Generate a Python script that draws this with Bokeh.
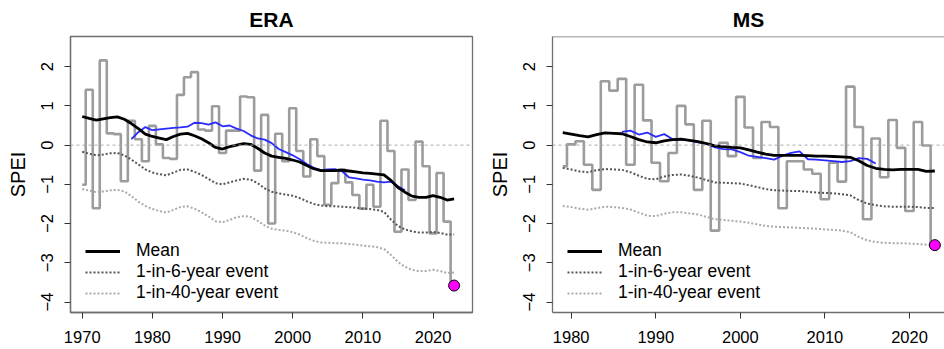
from bokeh.plotting import figure
from bokeh.models import Range1d, FixedTicker, Legend, LegendItem, Span
from bokeh.layouts import row
from bokeh.embed import file_html
from bokeh.resources import INLINE

# ---------------- data ----------------
era_years = list(range(1970, 2024))
era_spei = [-1.01, 1.41, -1.61, 2.16, 0.30, 0.28, -0.92, 0.62, 0.15, -0.41,
            0.49, 0.02, -0.33, -0.35, 1.28, 1.73, 1.86, 0.40, 0.37, 0.99,
            -0.20, 0.37, 0.37, 1.24, 1.22, -0.65, 0.77, -2.00, 0.29, -0.41,
            0.94, -0.15, -0.80, 0.15, -0.28, -1.52, -0.97, -0.62, -0.95, -1.27,
            -1.62, -1.01, -1.57, 0.62, -0.15, -2.21, -0.62, -1.40, 0.09, -0.54,
            -2.25, -0.71, -1.95, -3.58]
era_mean = [0.73, 0.68, 0.64, 0.67, 0.70, 0.72, 0.66, 0.55, 0.42, 0.28,
            0.22, 0.18, 0.14, 0.22, 0.28, 0.30, 0.24, 0.16, 0.06, -0.06,
            -0.10, -0.04, 0.00, 0.04, 0.02, -0.08, -0.20, -0.28, -0.31, -0.34,
            -0.38, -0.43, -0.52, -0.60, -0.65, -0.65, -0.65, -0.64, -0.66, -0.68,
            -0.71, -0.72, -0.74, -0.76, -0.90, -1.08, -1.20, -1.30, -1.33, -1.33,
            -1.29, -1.33, -1.40, -1.37]
era_rp6 = [-0.17, -0.22, -0.26, -0.24, -0.21, -0.20, -0.26, -0.37, -0.49, -0.62,
           -0.70, -0.74, -0.77, -0.70, -0.63, -0.62, -0.68, -0.76, -0.86, -0.97,
           -1.00, -0.95, -0.90, -0.86, -0.88, -0.97, -1.10, -1.19, -1.23, -1.26,
           -1.29, -1.35, -1.43, -1.50, -1.54, -1.56, -1.56, -1.57, -1.58, -1.60,
           -1.62, -1.63, -1.65, -1.70, -1.90, -2.06, -2.15, -2.20, -2.23, -2.23,
           -2.21, -2.24, -2.28, -2.28]
era_rp40 = [-1.12, -1.16, -1.20, -1.18, -1.15, -1.14, -1.18, -1.30, -1.44, -1.55,
            -1.63, -1.68, -1.72, -1.65, -1.58, -1.56, -1.62, -1.71, -1.82, -1.94,
            -1.97, -1.91, -1.84, -1.81, -1.83, -1.93, -2.05, -2.13, -2.16, -2.18,
            -2.22, -2.28, -2.37, -2.44, -2.48, -2.49, -2.50, -2.50, -2.52, -2.54,
            -2.56, -2.58, -2.60, -2.65, -2.80, -2.98, -3.10, -3.18, -3.21, -3.21,
            -3.18, -3.21, -3.26, -3.25]
era_blue_years = list(range(1977, 2017))
era_blue = [0.15, 0.33, 0.46, 0.38, 0.40, 0.42, 0.44, 0.45, 0.47, 0.57,
            0.56, 0.52, 0.58, 0.48, 0.50, 0.42, 0.36, 0.25, 0.17, 0.14,
            0.05, -0.10, -0.18, -0.26, -0.36, -0.48, -0.58, -0.64, -0.62, -0.61,
            -0.66, -0.82, -0.85, -0.88, -0.90, -0.93, -0.95, -0.93, -1.05, -1.15]

ms_years = list(range(1979, 2024))
ms_spei = [-0.54, 0.02, 0.10, -0.50, -1.14, 1.63, 1.39, 1.69, -0.50, 1.54,
           0.63, -0.45, -0.92, -0.20, 1.00, 0.53, -1.14, 0.62, -2.18, 0.06,
           -0.28, 1.23, 0.45, -0.33, 0.59, 0.46, -1.61, -0.41, -0.41, -0.62,
           -0.73, -1.38, -0.45, -0.93, 1.49, 0.46, -1.89, 0.17, -0.82, 0.64,
           -0.07, -1.68, 0.59, -0.01, -2.55]
ms_mean = [0.32, 0.28, 0.24, 0.21, 0.27, 0.31, 0.30, 0.29, 0.22, 0.14,
           0.08, 0.06, 0.11, 0.14, 0.15, 0.12, 0.09, 0.04, -0.02, -0.04,
           -0.06, -0.07, -0.12, -0.18, -0.23, -0.26, -0.26, -0.26, -0.26, -0.27,
           -0.28, -0.28, -0.29, -0.30, -0.31, -0.40, -0.52, -0.59, -0.62, -0.63,
           -0.62, -0.62, -0.62, -0.67, -0.66]
ms_rp6 = [-0.58, -0.62, -0.67, -0.69, -0.64, -0.61, -0.62, -0.63, -0.69, -0.78,
          -0.86, -0.87, -0.80, -0.76, -0.75, -0.78, -0.83, -0.89, -0.95, -0.96,
          -0.97, -0.98, -1.02, -1.07, -1.12, -1.15, -1.16, -1.17, -1.17, -1.19,
          -1.21, -1.22, -1.23, -1.25, -1.28, -1.40, -1.49, -1.53, -1.56, -1.57,
          -1.57, -1.57, -1.58, -1.60, -1.60]
ms_rp40 = [-1.55, -1.58, -1.62, -1.65, -1.61, -1.57, -1.58, -1.60, -1.64, -1.72,
           -1.80, -1.81, -1.75, -1.71, -1.71, -1.74, -1.77, -1.83, -1.89, -1.91,
           -1.93, -1.95, -1.98, -2.02, -2.06, -2.08, -2.09, -2.10, -2.11, -2.12,
           -2.13, -2.15, -2.16, -2.18, -2.22, -2.34, -2.43, -2.47, -2.49, -2.50,
           -2.50, -2.51, -2.52, -2.54, -2.54]
ms_blue_years = list(range(1986, 2017))
ms_blue = [0.34, 0.37, 0.27, 0.32, 0.21, 0.28, 0.15, 0.14, 0.12, 0.07,
           0.04, -0.06, -0.10, -0.11, -0.18, -0.27, -0.30, -0.33, -0.37, -0.27,
           -0.20, -0.16, -0.36, -0.37, -0.39, -0.41, -0.43, -0.41, -0.33, -0.35,
           -0.47]

era_xticks = [1970, 1980, 1990, 2000, 2010, 2020]
ms_xticks = [1980, 1990, 2000, 2010, 2020]
y_ticks = [-4, -3, -2, -1, 0, 1, 2]
legend_labels = ["Mean", "1-in-6-year event", "1-in-40-year event"]

FONT = "Liberation Sans"
FRAME = "#6e6e6e"
Y_BOTTOM, Y_TOP = -4.267, 2.769


def panel(title, years, spei, mean, rp6, rp40, byears, blue, xticks,
          xr, width, mbl, mbr, full_box):
    p = figure(width=width, height=349, output_backend="svg", toolbar_location=None,
               x_range=Range1d(*xr), y_range=Range1d(Y_BOTTOM, Y_TOP),
               min_border_left=mbl, min_border_right=mbr,
               min_border_top=11, min_border_bottom=37)
    p.grid.visible = False
    p.background_fill_color = "white"
    p.border_fill_color = "white"
    if full_box:
        p.outline_line_color = FRAME
        p.outline_line_width = 1.3
    else:
        p.outline_line_color = None
        p.add_layout(Span(location=Y_TOP, dimension="width", line_color=FRAME,
                          line_width=1.3))

    p.title.text = title
    p.title.align = "center"
    p.title.text_font = FONT
    p.title.text_font_size = "21px"
    p.title.text_font_style = "bold"
    p.title.text_color = "black"
    p.title.standoff = 11

    xa = p.below[0]
    ya = p.left[0]
    for ax in (xa, ya):
        ax.axis_line_color = FRAME
        ax.axis_line_width = 1.3
        ax.major_tick_line_color = "#333333"
        ax.major_tick_line_width = 1
        ax.major_tick_out = 6
        ax.major_tick_in = 0
        ax.minor_tick_line_color = None
        ax.major_label_text_font = FONT
        ax.major_label_text_font_size = "16.5px"
        ax.major_label_text_color = "black"

    xa.ticker = FixedTicker(ticks=xticks)
    xa.major_label_standoff = 12
    ya.ticker = FixedTicker(ticks=y_ticks)
    ya.major_label_orientation = "vertical"
    ya.major_label_standoff = 11
    ya.axis_label = "SPEI"
    ya.axis_label_text_font = FONT
    ya.axis_label_text_font_size = "20px"
    ya.axis_label_text_font_style = "normal"
    ya.axis_label_text_color = "black"
    ya.axis_label_standoff = 10

    p.step(years, spei, mode="center", line_color="#9c9c9c", line_width=2.6)
    p.add_layout(Span(location=0, dimension="width", line_color="#aaaaaa",
                      line_dash="3 3", line_width=1))
    r40 = p.line(years, rp40, line_color="#aaaaaa", line_width=2, line_dash="2 2")
    r6 = p.line(years, rp6, line_color="#555555", line_width=2, line_dash="2 2")
    p.line(byears, blue, line_color="#2a2aff", line_width=1.8)
    rm = p.line(years, mean, line_color="black", line_width=2.8)
    p.scatter([years[-1]], [spei[-1]], size=11, fill_color="#ff00ff",
              line_color="black", line_width=1)

    leg = Legend(items=[LegendItem(label=legend_labels[0], renderers=[rm]),
                        LegendItem(label=legend_labels[1], renderers=[r6]),
                        LegendItem(label=legend_labels[2], renderers=[r40])],
                 location=(15, 9), glyph_width=35, glyph_height=20,
                 label_height=20, label_standoff=16, spacing=0, padding=0,
                 margin=0, border_line_color=None, background_fill_alpha=0,
                 label_text_font=FONT, label_text_font_size="17.5px",
                 label_text_color="black")
    p.add_layout(leg, "center")
    return p


p1 = panel("ERA", era_years, era_spei, era_mean, era_rp6, era_rp40,
           era_blue_years, era_blue, era_xticks, (1968.33, 2025.62), 480, 70, 8, True)
p2 = panel("MS", ms_years, ms_spei, ms_mean, ms_rp6, ms_rp40,
           ms_blue_years, ms_blue, ms_xticks, (1977.79, 2024.14), 464, 72, 0, False)

layout = row(p1, p2)
open("out.html", "w").write(file_html(layout, INLINE))
